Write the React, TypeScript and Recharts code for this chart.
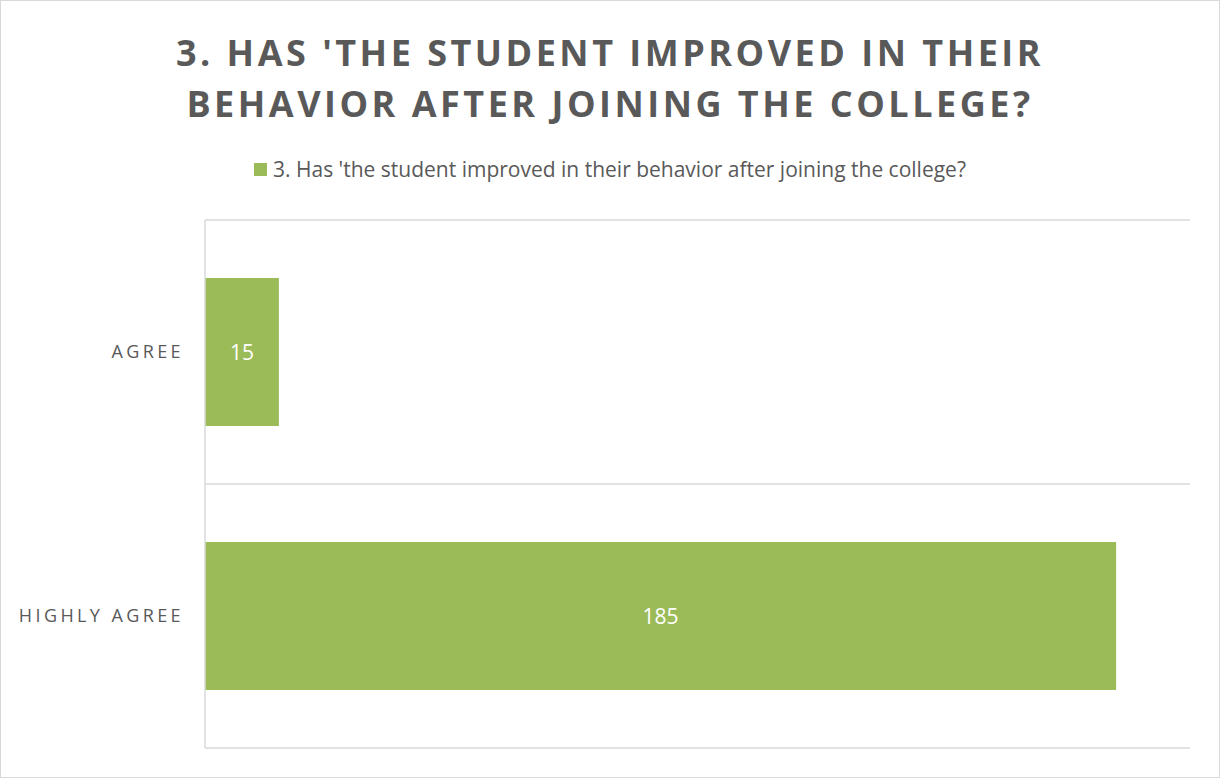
import { BarChart, Bar, XAxis, YAxis, CartesianGrid, Legend, LabelList } from 'recharts';

const TITLE_LINES = ["3. HAS 'THE STUDENT IMPROVED IN THEIR", 'BEHAVIOR AFTER JOINING THE COLLEGE?'];
const SERIES_NAME = "3. Has 'the student improved in their behavior after joining the college?";
const CATEGORIES = ['AGREE', 'HIGHLY AGREE'];
const VALUES = [15, 185];
const X_DOMAIN = [0, 200];

const GREEN = '#9bbb59';
const TEXT = '#595959';
const GRID = '#d9d9d9';
const FONT = '"Open Sans", "Noto Sans", sans-serif';

const data = CATEGORIES.map((name, i) => ({ name, value: VALUES[i] }));

const CategoryTick = (props: any) => {
  const { x, y, payload } = props;
  return (
    <text
      x={x - 13}
      y={y}
      dy={6}
      textAnchor="end"
      fill={TEXT}
      fontSize={18}
      fontFamily={FONT}
      letterSpacing={3.4}
    >
      {payload.value}
    </text>
  );
};

// fixed height so the plot offset stays predictable
const LegendContent = () => (
  <div
    style={{
      height: 24,
      display: 'flex',
      justifyContent: 'center',
      alignItems: 'center',
      fontFamily: FONT,
      fontSize: 21,
      color: TEXT,
    }}
  >
    <span style={{ width: 13, height: 13, background: GREEN, marginRight: 6, display: 'inline-block' }} />
    <span>{SERIES_NAME}</span>
  </div>
);

const App = () => {
  return (
    <div
      style={{
        position: 'absolute',
        left: 0,
        top: 0,
        width: 1218,
        height: 776,
        border: `1px solid ${GRID}`,
        background: '#fff',
        fontFamily: FONT,
      }}
    >
      <div
        style={{
          position: 'absolute',
          top: 26,
          left: 0,
          width: 1218,
          textAlign: 'center',
          color: TEXT,
          fontWeight: 700,
          fontSize: 36,
          letterSpacing: 3.5,
          lineHeight: '51px',
        }}
      >
        {TITLE_LINES.map((line) => (
          <div key={line}>{line}</div>
        ))}
      </div>
      <BarChart
        width={1218}
        height={776}
        data={data}
        layout="vertical"
        margin={{ top: 195, right: 29, bottom: 29, left: 14 }}
        barCategoryGap="22%"
      >
        <CartesianGrid
          vertical={false}
          stroke={GRID}
          strokeWidth={1.5}
          horizontalCoordinatesGenerator={({ offset }: any) => [
            offset.top,
            offset.top + offset.height / 2,
            offset.top + offset.height,
          ]}
        />
        <XAxis type="number" domain={X_DOMAIN} hide />
        <YAxis
          type="category"
          dataKey="name"
          width={190}
          axisLine={{ stroke: GRID, strokeWidth: 1.5 }}
          tickLine={false}
          tick={<CategoryTick />}
        />
        <Legend
          verticalAlign="top"
          content={<LegendContent />}
          wrapperStyle={{ position: 'absolute', top: 156, left: 0, width: 1218 }}
        />
        <Bar dataKey="value" name={SERIES_NAME} fill={GREEN} isAnimationActive={false}>
          <LabelList dataKey="value" position="center" fill="#ffffff" fontSize={21} fontFamily={FONT} />
        </Bar>
      </BarChart>
    </div>
  );
};

export default App;
